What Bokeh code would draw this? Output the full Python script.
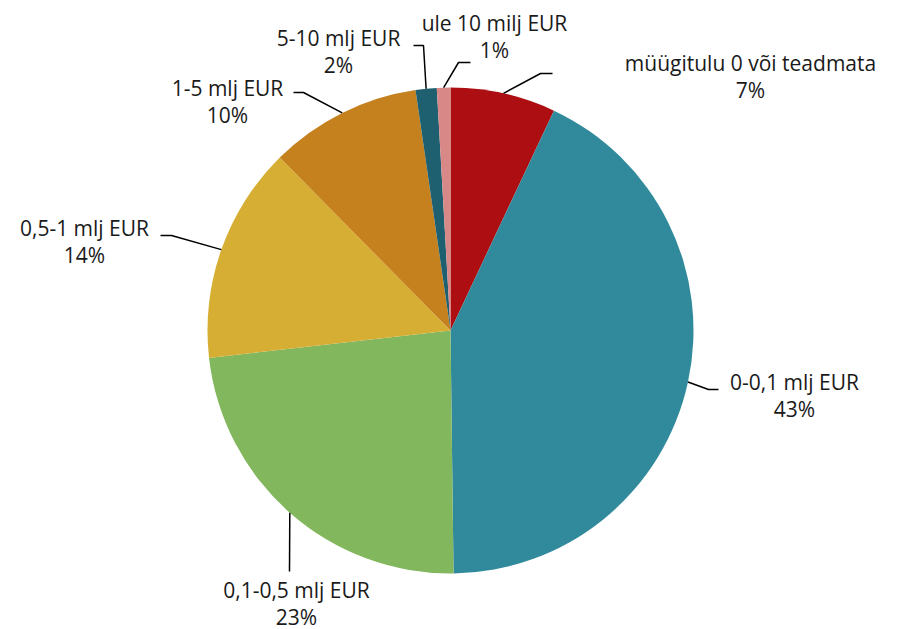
import math
from bokeh.plotting import figure
from bokeh.models import ColumnDataSource
from bokeh.core.properties import value
from bokeh.embed import file_html
from bokeh.resources import INLINE

# ---- data ----
categories = ["müügitulu 0 või teadmata", "0-0,1 mlj EUR", "0,1-0,5 mlj EUR",
              "0,5-1 mlj EUR", "1-5 mlj EUR", "5-10 mlj EUR", "ule 10 milj EUR"]
shares = [7.0, 42.8, 23.4, 14.4, 10.1, 1.4, 0.9]
pct_labels = ["7%", "43%", "23%", "14%", "10%", "2%", "1%"]
colors = ["#AD0E12", "#318A9B", "#82B75D", "#D5AE33", "#C6811F", "#1F6070", "#D98888"]

# ---- layout (page pixels) ----
W, H = 906, 629
CX, CY, R = 450, 330, 243
# elbow point, end of horizontal segment, label centre (page px)
elbows = [(540, 73), (708, 389), (289, 571), (171, 235), (303, 92), (423, 45), (458, 62)]
ends = [(552, 73), (718, 389), (289, 571), (160, 235), (293, 92), (413, 45), (470, 62)]
label_pos = [(750, 62), (794, 381), (296, 589), (84, 227), (227, 87), (338, 37), (494, 22)]

def X(px):
    return px

def Y(py):
    return H - py

p = figure(width=W, height=H, x_range=(0, W), y_range=(0, H),
           output_backend="svg", toolbar_location=None, min_border=0)
p.axis.visible = False
p.grid.visible = False
p.outline_line_color = None

total = sum(shares)
starts, endsang, mids = [], [], []
cum = 0.0
for s in shares:
    a0 = math.pi / 2 - 2 * math.pi * cum / total
    cum += s
    a1 = math.pi / 2 - 2 * math.pi * cum / total
    starts.append(a0)
    endsang.append(a1)
    mids.append((a0 + a1) / 2)

src = ColumnDataSource(dict(x=[X(CX)] * len(shares), y=[Y(CY)] * len(shares),
                            start=starts, end=endsang, color=colors))
p.wedge(x="x", y="y", radius=R, start_angle="start", end_angle="end",
        direction="clock", fill_color="color", line_color=None, source=src)

# leader lines
xs, ys = [], []
for m, e, f in zip(mids, elbows, ends):
    sx = CX + R * math.cos(m)
    sy = CY - R * math.sin(m)
    xs.append([X(sx), X(e[0]), X(f[0])])
    ys.append([Y(sy), Y(e[1]), Y(f[1])])
p.multi_line(xs=xs, ys=ys, line_color="black", line_width=1.5)

font = value("Open Sans")
p.text(x=[X(l[0]) for l in label_pos], y=[Y(l[1]) for l in label_pos], text=categories,
       text_font=font, text_font_size="21px", text_align="center",
       text_baseline="middle", text_color="#1a1a1a")
p.text(x=[X(l[0]) for l in label_pos], y=[Y(l[1] + 27) for l in label_pos], text=pct_labels,
       text_font=font, text_font_size="21px", text_align="center",
       text_baseline="middle", text_color="#1a1a1a")

open("out.html", "w").write(file_html(p, INLINE))
